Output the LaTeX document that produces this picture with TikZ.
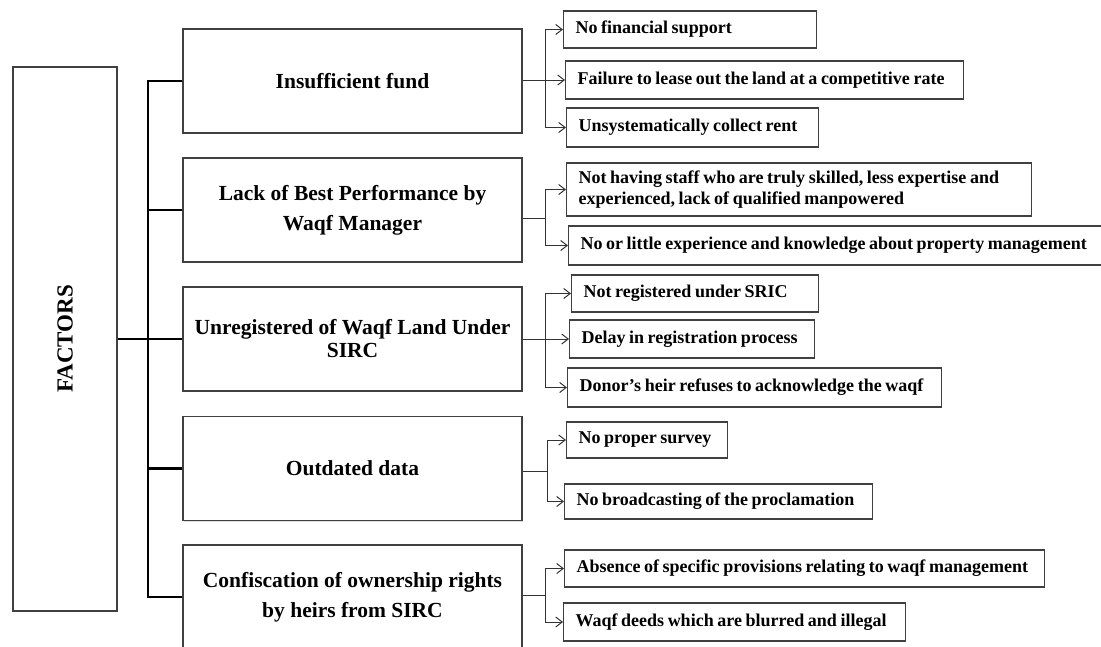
\documentclass[tikz,border=0pt]{standalone}
\usepackage{fontspec}
\setmainfont{Liberation Serif}
\usetikzlibrary{arrows.meta,shadows}
\newcommand\tightline[1]{\mbox{\spaceskip=0.2em\relax #1}}
\begin{document}
\begin{tikzpicture}[x=1pt,y=-1pt,
  factorbox/.style={draw=black!75, line width=1.4pt, fill=white, inner sep=0pt,
    minimum width=104pt, minimum height=544pt,
    drop shadow={shadow xshift=1pt, shadow yshift=-1.2pt, fill=black!25}},
  mainbox/.style={draw=black!75, line width=1.4pt, fill=white, align=center,
    minimum width=339pt, minimum height=104pt, inner sep=0pt,
    font=\bfseries\fontsize{21.5}{30}\selectfont,
    drop shadow={shadow xshift=1pt, shadow yshift=-1.2pt, fill=black!25}},
  subbox/.style={draw=black!75, line width=1.1pt, fill=white, anchor=west, align=left,
    inner xsep=12pt, inner ysep=0pt, font=\bfseries\fontsize{18}{21}\selectfont,
    drop shadow={shadow xshift=0.8pt, shadow yshift=-1pt, fill=black!25}},
  trunkline/.style={line width=2.2pt, black},
  conn/.style={line width=1pt, black!80},
  arr/.style={conn, -{Straight Barb[length=6.5pt,width=10pt,line width=1pt]}}
]
\useasboundingbox (0,0) rectangle (1101,646);

% left column
\node[factorbox] (f) at (65,339) {\rotatebox{90}{\bfseries\fontsize{23}{27}\selectfont FACTORS}};

% main factor boxes
\node[mainbox] (b1) at (352.5,81) {Insufficient fund};
\node[mainbox] (b2) at (352.5,210) {Lack of Best Performance by\\Waqf Manager};
\node[mainbox, font=\bfseries\fontsize{21.5}{23}\selectfont] (b3) at (352.5,339) {Unregistered of Waqf Land Under\\SIRC};
\node[mainbox] (b4) at (352.5,468.5) {Outdated data};
\node[mainbox] (b5) at (352.5,597) {Confiscation of ownership rights\\by heirs from SIRC};

% trunk
\coordinate (tx) at (148,0);
\draw[trunkline] (b1.west) -- (b1.west -| tx) -- (b5.west -| tx) -- (b5.west);
\draw[trunkline] (b2.west) -- (b2.west -| tx);
\draw[trunkline] (f.east) -- (b3.west);
\draw[trunkline] (b4.west) -- (b4.west -| tx);

% sub boxes
\node[subbox, text width=229pt, minimum height=37pt] (s11) at (563,29.5) {\tightline{No financial support}};
\node[subbox, text width=374pt, minimum height=38pt] (s12) at (565,80) {\tightline{Failure to lease out the land at a competitive rate}};
\node[subbox, text width=228pt, minimum height=39pt] (s13) at (566,127.5) {\tightline{Unsystematically collect rent}};

\node[subbox, text width=441pt, minimum height=53pt] (s21) at (566,189.5) {\tightline{Not having staff who are truly skilled, less expertise and}\\\tightline{experienced, lack of qualified manpowered}};
\node[subbox, text width=516pt, minimum height=39pt] (s22) at (568,245.5) {\tightline{No or little experience and knowledge about property management}};

\node[subbox, text width=223pt, minimum height=37pt] (s31) at (571,293.5) {\tightline{Not registered under SRIC}};
\node[subbox, text width=221pt, minimum height=38pt] (s32) at (569,339) {\tightline{Delay in registration process}};
\node[subbox, text width=350pt, minimum height=39pt] (s33) at (567,387.5) {\tightline{Donor’s heir refuses to acknowledge the waqf}};

\node[subbox, text width=137pt, minimum height=36pt] (s41) at (566,440) {\tightline{No proper survey}};
\node[subbox, text width=284pt, minimum height=35pt] (s42) at (564,501.5) {\tightline{No broadcasting of the proclamation}};

\node[subbox, text width=456pt, minimum height=37pt] (s51) at (564,568.5) {\tightline{Absence of specific provisions relating to waqf management}};
\node[subbox, text width=318pt, minimum height=38pt] (s52) at (563,622) {\tightline{Waqf deeds which are blurred and illegal}};

% group connectors
\coordinate (j1) at (545,80);
\draw[conn] (b1.east |- j1) -- (j1);
\draw[arr] (j1) |- (s11.west);
\draw[arr] (j1) -- (s12.west);
\draw[arr] (j1) |- (s13.west);

\coordinate (j2) at (545,218);
\draw[conn] (b2.east |- j2) -- (j2);
\draw[arr] (j2) |- (s21.west);
\draw[arr] (j2) |- (s22.west);

\coordinate (j3) at (545,339);
\draw[conn] (b3.east |- j3) -- (j3);
\draw[arr] (j3) |- (s31.west);
\draw[arr] (j3) -- (s32.west);
\draw[arr] (j3) |- (s33.west);

\coordinate (j4) at (547,471);
\draw[conn] (b4.east |- j4) -- (j4);
\draw[arr] (j4) |- (s41.west);
\draw[arr] (j4) |- (s42.west);

\coordinate (j5) at (545,595);
\draw[conn] (b5.east |- j5) -- (j5);
\draw[arr] (j5) |- (s51.west);
\draw[arr] (j5) |- (s52.west);
\end{tikzpicture}
\end{document}
